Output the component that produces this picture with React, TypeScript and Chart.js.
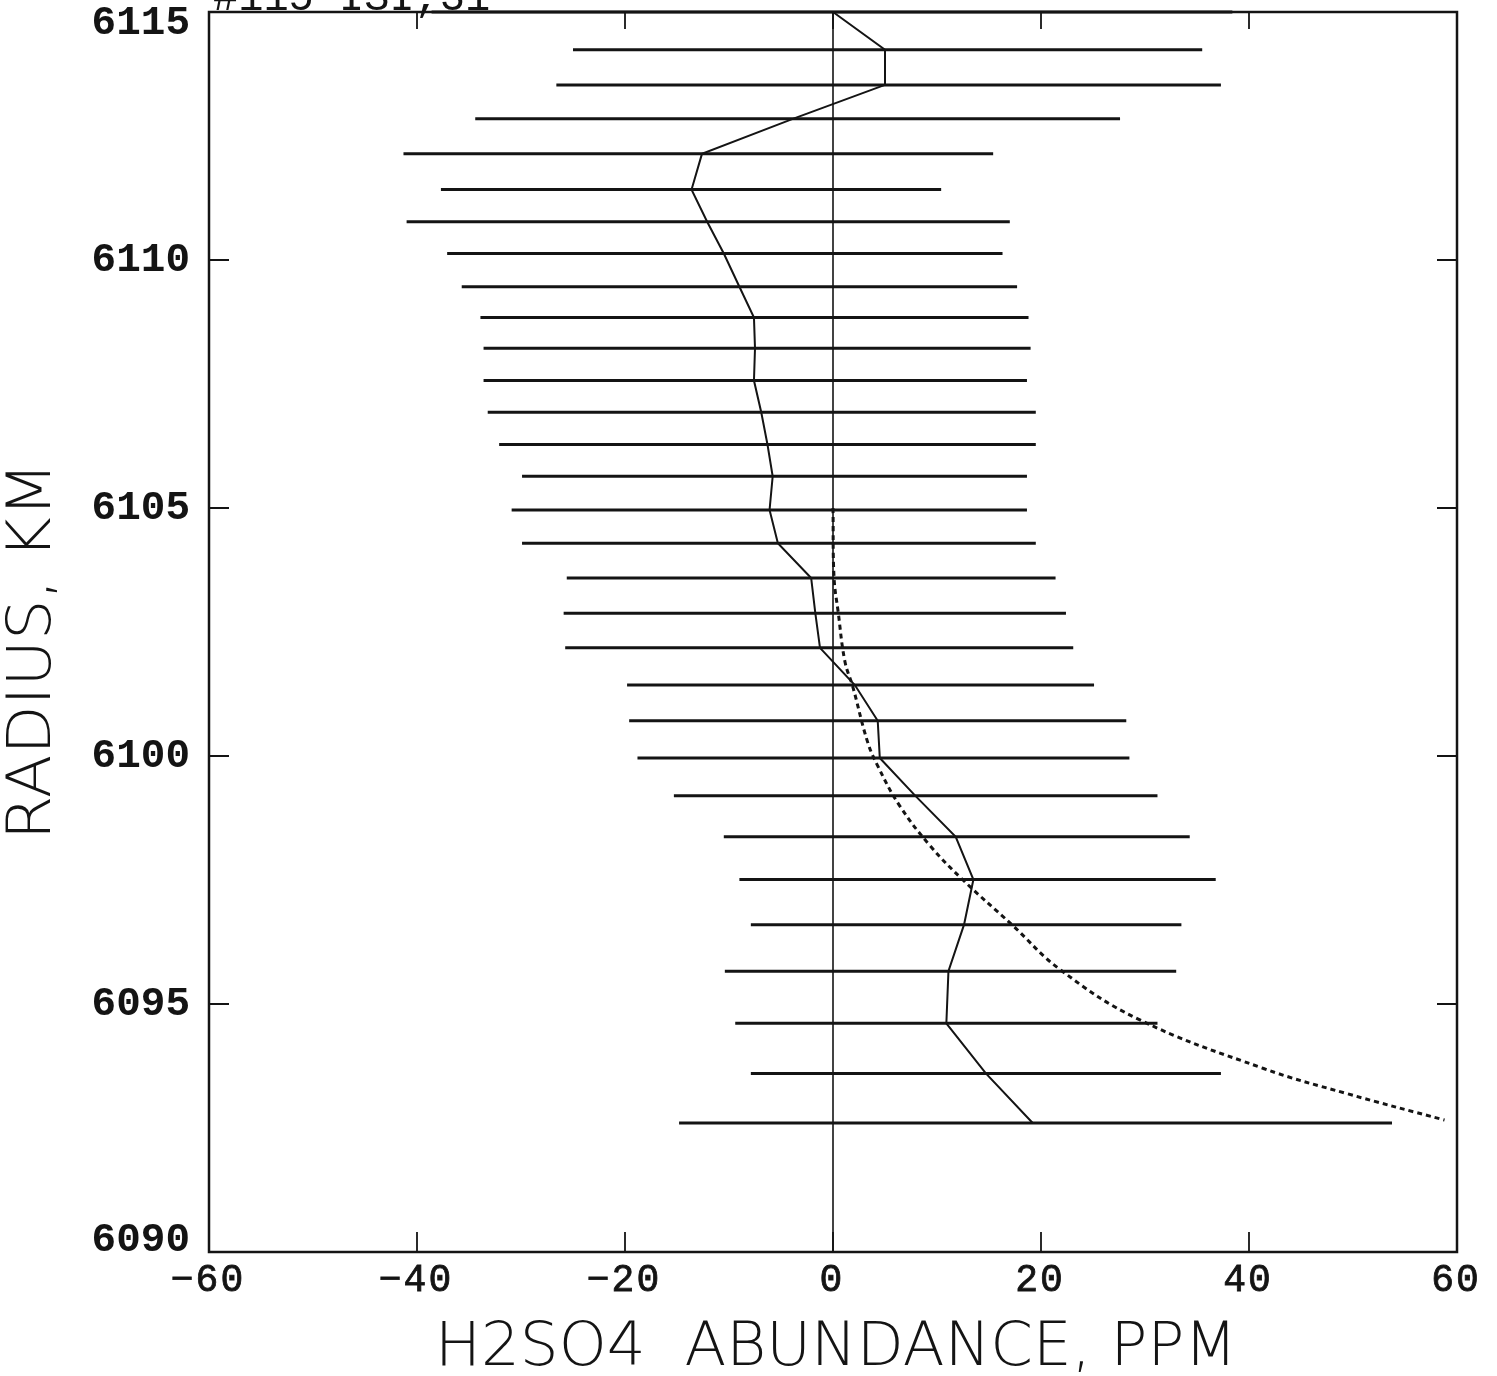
import React, { useEffect, useRef } from "react";
import { Chart, registerables } from "chart.js";

Chart.register(...registerables);

// Radius (km) of each retrieval level, top to bottom
const radius = [
  6115.0, 6114.24, 6113.53, 6112.85, 6112.14, 6111.42, 6110.77, 6110.13, 6109.46, 6108.84,
  6108.22, 6107.57, 6106.93, 6106.28, 6105.64, 6104.96, 6104.29, 6103.59, 6102.88, 6102.18,
  6101.43, 6100.71, 6099.96, 6099.2, 6098.37, 6097.51, 6096.6, 6095.66, 6094.61, 6093.6, 6092.6,
];
// Retrieved H2SO4 abundance (ppm)
const abundance = [
  0, 5.0, 5.0, -3.8, -12.6, -13.6, -12.1, -10.5, -9.0, -7.6,
  -7.5, -7.6, -6.9, -6.3, -5.8, -6.1, -5.3, -2.1, -1.7, -1.25,
  2.1, 4.3, 4.5, 7.9, 11.8, 13.5, 12.6, 11.1, 10.9, 14.7, 19.2,
];
// Error bar lower / upper ends (ppm)
const lowerBound = [
  -38.6, -25.0, -26.6, -34.4, -41.3, -37.7, -41.0, -37.1, -35.7, -33.9,
  -33.6, -33.6, -33.2, -32.1, -29.9, -30.9, -29.9, -25.6, -25.9, -25.75,
  -19.8, -19.6, -18.8, -15.3, -10.5, -9.0, -7.9, -10.4, -9.4, -7.9, -14.8,
];
const upperBound = [
  38.4, 35.5, 37.3, 27.6, 15.4, 10.4, 17.0, 16.3, 17.7, 18.8,
  19.0, 18.65, 19.5, 19.5, 18.65, 18.65, 19.5, 21.4, 22.4, 23.1,
  25.1, 28.2, 28.5, 31.2, 34.3, 36.8, 33.5, 33.0, 31.2, 37.3, 53.75,
];
// Dotted model curve
const modelAbundance = [0, 0.1, 0.5, 1.15, 1.9, 3.3, 4.3, 6.4, 9.3, 12.5, 17.2, 21.8, 29.3, 41.4, 49.3, 58.8];
const modelRadius = [6105.0, 6103.6, 6102.9, 6101.9, 6101.4, 6100.3, 6099.8, 6099.0, 6098.2, 6097.5, 6096.6, 6095.7, 6094.7, 6093.7, 6093.2, 6092.66];

const xTickValues = [-60, -40, -20, 0, 20, 40, 60];
const yTickValues = [6090, 6095, 6100, 6105, 6110, 6115];
const xTitle = "H2SO4  ABUNDANCE, PPM";
const yTitle = "RADIUS, KM";
const cornerNote = "#115 ISI,31";

const INK = "#141414";

const framePlugin = {
  id: "frameAndLabels",
  afterDatasetsDraw(chart: any) {
    const { ctx, chartArea } = chart;
    const { left, right, top, bottom } = chartArea;
    const xs = chart.scales.x;
    const ys = chart.scales.y;
    ctx.save();
    ctx.strokeStyle = INK;
    ctx.fillStyle = INK;
    // frame
    ctx.lineWidth = 2.5;
    ctx.strokeRect(left, top, right - left, bottom - top);
    // inward ticks
    ctx.lineWidth = 1.8;
    ctx.beginPath();
    xTickValues.forEach((v) => {
      if (v === xTickValues[0] || v === xTickValues[xTickValues.length - 1]) return;
      const px = xs.getPixelForValue(v);
      ctx.moveTo(px, bottom);
      ctx.lineTo(px, bottom - 20);
      ctx.moveTo(px, top);
      ctx.lineTo(px, top + 17);
    });
    yTickValues.forEach((v) => {
      if (v === yTickValues[0] || v === yTickValues[yTickValues.length - 1]) return;
      const py = ys.getPixelForValue(v);
      ctx.moveTo(left, py);
      ctx.lineTo(left + 20, py);
      ctx.moveTo(right, py);
      ctx.lineTo(right - 20, py);
    });
    ctx.stroke();

    // y tick labels
    ctx.font = "bold 41px 'Liberation Mono', 'DejaVu Sans Mono', monospace";
    ctx.textAlign = "right";
    ctx.textBaseline = "middle";
    yTickValues.forEach((v) => {
      let py = ys.getPixelForValue(v);
      if (py < top + 11) py = top + 11;
      if (py > bottom - 12) py = bottom - 12;
      ctx.fillText(String(v), 190, py + 1);
    });
    // x tick labels
    ctx.font = "38px 'Liberation Mono', 'DejaVu Sans Mono', monospace";
    ctx.textAlign = "center";
    ctx.lineWidth = 0.8;
    (ctx as any).letterSpacing = "2px";
    xTickValues.forEach((v) => {
      const px = xs.getPixelForValue(v);
      const label = v < 0 ? "\u2212" + String(-v) : String(v);
      ctx.fillText(label, px - 1, bottom + 29);
      ctx.strokeText(label, px - 1, bottom + 29);
    });
    (ctx as any).letterSpacing = "0px";

    // axis titles (thin, condensed)
    ctx.font = "200 60px 'DejaVu Sans', sans-serif";
    ctx.textBaseline = "middle";
    ctx.textAlign = "left";
    {
      const w = ctx.measureText(xTitle).width;
      const target = 802;
      ctx.save();
      ctx.translate(435, bottom + 97);
      ctx.scale(target / w, 1.0);
      ctx.fillText(xTitle, 0, 0);
      ctx.restore();
    }
    {
      const w = ctx.measureText(yTitle).width;
      const target = 378;
      ctx.save();
      ctx.translate(34, 840);
      ctx.rotate(-Math.PI / 2);
      ctx.scale(target / w, 1.0);
      ctx.fillText(yTitle, 0, 0);
      ctx.restore();
    }

    // clipped note at top
    ctx.font = "42px 'Liberation Mono', 'DejaVu Sans Mono', monospace";
    ctx.textAlign = "left";
    ctx.textBaseline = "alphabetic";
    ctx.fillText(cornerNote, 213, top - 2);
    ctx.restore();
  },
};

export default function App() {
  const canvasRef = useRef<HTMLCanvasElement | null>(null);

  useEffect(() => {
    if (!canvasRef.current) return;
    const barPoints: any[] = [];
    radius.forEach((r, i) => {
      barPoints.push({ x: lowerBound[i], y: r });
      barPoints.push({ x: upperBound[i], y: r });
      barPoints.push({ x: upperBound[i], y: null });
    });
    const profilePoints = radius.map((r, i) => ({ x: abundance[i], y: r }));
    const modelPoints = modelRadius.map((r, i) => ({ x: modelAbundance[i], y: r }));
    const zeroLine = [
      { x: 0, y: yTickValues[0] },
      { x: 0, y: yTickValues[yTickValues.length - 1] },
    ];

    const chart = new Chart(canvasRef.current, {
      type: "scatter",
      data: {
        datasets: [
          {
            label: "zero",
            data: zeroLine,
            showLine: true,
            borderColor: INK,
            borderWidth: 1.6,
            pointRadius: 0,
            clip: false,
          },
          {
            label: "error bars",
            data: barPoints,
            showLine: true,
            spanGaps: false,
            borderColor: INK,
            borderWidth: 3,
            pointRadius: 0,
            clip: false,
          },
          {
            label: "profile",
            data: profilePoints,
            showLine: true,
            borderColor: INK,
            borderWidth: 2,
            pointRadius: 0,
            clip: false,
          },
          {
            label: "model",
            data: modelPoints,
            showLine: true,
            borderColor: INK,
            borderWidth: 3,
            borderDash: [5, 4],
            tension: 0.4,
            pointRadius: 0,
            clip: false,
          },
        ] as any,
      },
      options: {
        animation: false,
        responsive: false,
        devicePixelRatio: 1,
        layout: { padding: { left: 209, right: 40, top: 12, bottom: 124 } },
        plugins: { legend: { display: false }, tooltip: { enabled: false }, title: { display: false } },
        scales: {
          x: { type: "linear", min: -60, max: 60, display: false },
          y: { type: "linear", min: 6090, max: 6115, display: false },
        },
      },
      plugins: [framePlugin],
    } as any);
    return () => chart.destroy();
  }, []);

  return (
    <div style={{ position: "absolute", left: 0, top: 0, width: 1497, height: 1376, background: "#fff" }}>
      <canvas ref={canvasRef} width={1497} height={1376} style={{ display: "block" }} />
    </div>
  );
}
